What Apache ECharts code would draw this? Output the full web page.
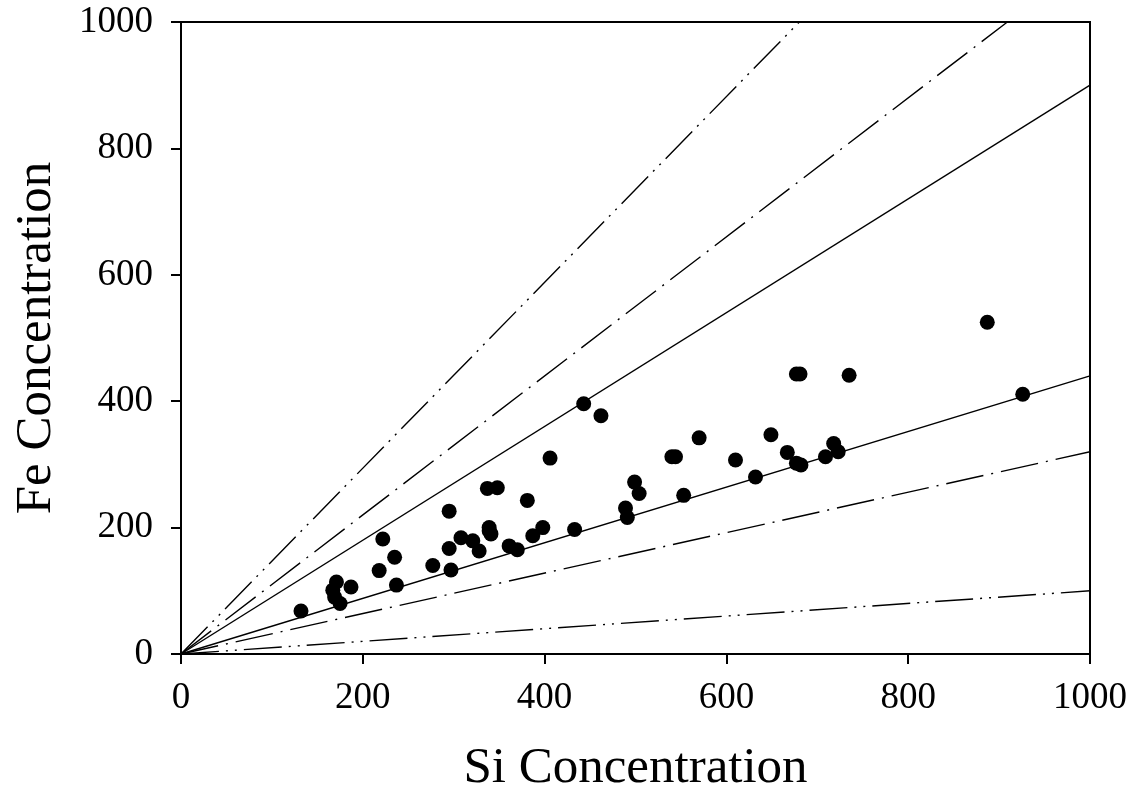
<!DOCTYPE html>
<html>
<head>
<meta charset="utf-8">
<script src="https://cdn.jsdelivr.net/npm/echarts@6/dist/echarts.min.js"></script>
<style>
html,body{margin:0;padding:0;background:#fff;}
#c{width:1130px;height:799px;}
</style>
</head>
<body>
<div id="c"></div>
<script>
// Data
var siValues = [132,171,167,169,175,187,222,235,218,237,277,297,295,295,308,321,328,339,339,341,337,348,361,370,381,387,398,406,433,443,462,489,491,499,504,553,540,544,570,610,632,649,667,677,681,682,677,709,718,723,735,887,926];
var feValues = [68,114,101,90,80,106,182,153,132,109,140,133,167,226,184,179,163,195,200,190,262,263,171,165,243,187,200,310,197,396,377,231,216,272,254,251,312,312,342,307,280,347,319,443,443,299,302,312,333,320,441,525,411];
var lineSlopes = [1.47, 1.1, 0.9, 0.44, 0.32, 0.1];
var lineStyles = ['dashdotdot','dashdot','solid','solid','dashdot','dashdotdot'];
var xTicks = [0,200,400,600,800,1000];
var yTicks = [0,200,400,600,800,1000];

var points = siValues.map(function(v,i){return [v, feValues[i]];});
var dashMap = {
  solid: 'solid',
  dashdot: [38,8,2,8],
  dashdotdot: [38,7,2,7,2,7]
};
var lineSeries = lineSlopes.map(function(s,i){
  var xEnd = Math.min(1000, 1000/s);
  return {
    type:'line', data:[[0,0],[xEnd, s*xEnd]], symbol:'none', silent:true,
    lineStyle:{color:'#000', width:1.4, type: dashMap[lineStyles[i]]},
    z:2, clip:true
  };
});

var chart = echarts.init(document.getElementById('c'));
var font = '"Liberation Serif", "Times New Roman", serif';
chart.setOption({
  animation:false,
  backgroundColor:'#fff',
  grid:{left:181, right:38, top:22, bottom:137, show:true, borderColor:'#000', borderWidth:2, backgroundColor:'transparent'},
  xAxis:{
    type:'value', min:0, max:1000, interval:200,
    name:'Si Concentration', nameLocation:'middle', nameGap:89,
    nameTextStyle:{fontFamily:font, fontSize:51, color:'#000'},
    axisLine:{lineStyle:{color:'#000', width:2}},
    axisTick:{length:10, lineStyle:{color:'#000', width:2}},
    axisLabel:{fontFamily:font, fontSize:37, color:'#000', margin:26,
      formatter:function(v){return xTicks.indexOf(v)>=0 ? String(v) : '';}},
    splitLine:{show:false}
  },
  yAxis:{
    type:'value', min:0, max:1000, interval:200,
    name:'Fe Concentration', nameLocation:'middle', nameGap:119,
    nameTextStyle:{fontFamily:font, fontSize:51, color:'#000'},
    axisLine:{lineStyle:{color:'#000', width:2}},
    axisTick:{length:10, lineStyle:{color:'#000', width:2}},
    axisLabel:{fontFamily:font, fontSize:37, color:'#000', margin:28,
      formatter:function(v){return yTicks.indexOf(v)>=0 ? String(v) : '';}},
    splitLine:{show:false}
  },
  series: lineSeries.concat([{
    type:'scatter', data:points, symbol:'circle', symbolSize:15,
    itemStyle:{color:'#000', opacity:1}, z:3
  }])
});
</script>
</body>
</html>
